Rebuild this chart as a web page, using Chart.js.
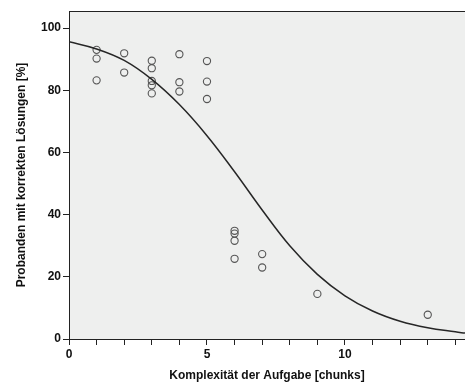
<!DOCTYPE html>
<html>
<head>
<meta charset="utf-8">
<script src="https://cdn.jsdelivr.net/npm/chart.js@4/dist/chart.umd.min.js"></script>
<style>
  body { margin: 0; background: #fff; }
  canvas { display: block; }
</style>
</head>
<body>
<canvas id="chart" width="465" height="382"></canvas>
<script>
// observed points: task complexity (chunks) vs. % correct
const pointX = [1, 1, 1, 2, 2, 3, 3, 3, 3, 3, 4, 4, 4, 5, 5, 5, 6, 6, 6, 6, 7, 7, 9, 13];
const pointY = [93, 90.2, 83.2, 91.9, 85.7, 89.5, 87.1, 83, 81.6, 79, 91.6, 82.6, 79.6, 89.4, 82.8, 77.2, 34.8, 33.9, 31.6, 25.8, 27.3, 23, 14.5, 7.8];

// fitted curve
const curveX = [0, 1, 2, 3, 4, 5, 6, 7, 8, 9, 10, 11, 12, 13, 14, 14.35];
const curveY = [95.6, 93.3, 89.6, 83.5, 75.4, 65.4, 53.8, 41.5, 30.0, 20.8, 13.9, 9.0, 5.7, 3.6, 2.3, 1.9];

const xTicks = [0, 1, 2, 3, 4, 5, 6, 7, 8, 9, 10, 11, 12, 13, 14];
const xLabels = [0, 5, 10];
const yTicks = [0, 20, 40, 60, 80, 100];

const tickFont = { family: 'Liberation Sans, Arial, sans-serif', size: 12, weight: 'bold' };

const plotBg = {
  id: 'plotBg',
  beforeDraw(chart) {
    const { ctx, chartArea: a } = chart;
    ctx.save();
    ctx.fillStyle = '#eeefee';
    ctx.fillRect(a.left, a.top, a.right - a.left, a.bottom - a.top);
    ctx.restore();
  },
  afterDraw(chart) {
    const { ctx, chartArea: a } = chart;
    ctx.save();
    ctx.strokeStyle = '#222';
    ctx.lineWidth = 1;
    ctx.beginPath();
    ctx.moveTo(a.left, a.top + 0.5);
    ctx.lineTo(a.right, a.top + 0.5);
    ctx.stroke();
    ctx.restore();
  }
};

new Chart(document.getElementById('chart'), {
  type: 'scatter',
  data: {
    datasets: [
      {
        label: 'Fit',
        data: curveX.map((x, i) => ({ x, y: curveY[i] })),
        showLine: true,
        borderColor: '#262626',
        borderWidth: 1.5,
        pointRadius: 0,
        tension: 0.4,
        fill: false
      },
      {
        label: 'Probanden',
        data: pointX.map((x, i) => ({ x, y: pointY[i] })),
        pointStyle: 'circle',
        pointRadius: 3.6,
        borderWidth: 1.1,
        borderColor: '#555',
        backgroundColor: 'rgba(0,0,0,0)'
      }
    ]
  },
  options: {
    responsive: false,
    animation: false,
    layout: { autoPadding: false, padding: { top: 11, right: 0, left: 0, bottom: 0 } },
    plugins: { legend: { display: false }, tooltip: { enabled: false } },
    scales: {
      x: {
        type: 'linear',
        min: 0,
        max: 14.35,
        afterBuildTicks(scale) { scale.ticks = xTicks.map(v => ({ value: v })); },
        afterFit(scale) { scale.height = 43; },
        ticks: {
          color: '#111',
          font: tickFont,
          padding: 2,
          maxRotation: 0,
          autoSkip: false,
          callback: v => xLabels.includes(v) ? String(v) : ''
        },
        grid: { drawOnChartArea: false, color: '#222', tickLength: 6 },
        border: { color: '#222', width: 1 },
        title: {
          display: true,
          text: 'Komplexität der Aufgabe [chunks]',
          color: '#111',
          font: { family: 'Liberation Sans, Arial, sans-serif', size: 12, weight: 'bold', lineHeight: 1 },
          padding: { top: 0, bottom: 0 }
        }
      },
      y: {
        type: 'linear',
        min: 0,
        max: 105.5,
        afterBuildTicks(scale) { scale.ticks = yTicks.map(v => ({ value: v })); },
        afterFit(scale) { scale.width = 69; },
        ticks: { color: '#111', font: tickFont, padding: 2 },
        grid: { drawOnChartArea: false, color: '#222', tickLength: 6 },
        border: { color: '#222', width: 1 },
        title: {
          display: true,
          text: 'Probanden mit korrekten Lösungen [%]',
          color: '#111',
          font: tickFont,
          padding: { top: 14, bottom: 0 }
        }
      }
    }
  },
  plugins: [plotBg]
});
</script>
</body>
</html>
